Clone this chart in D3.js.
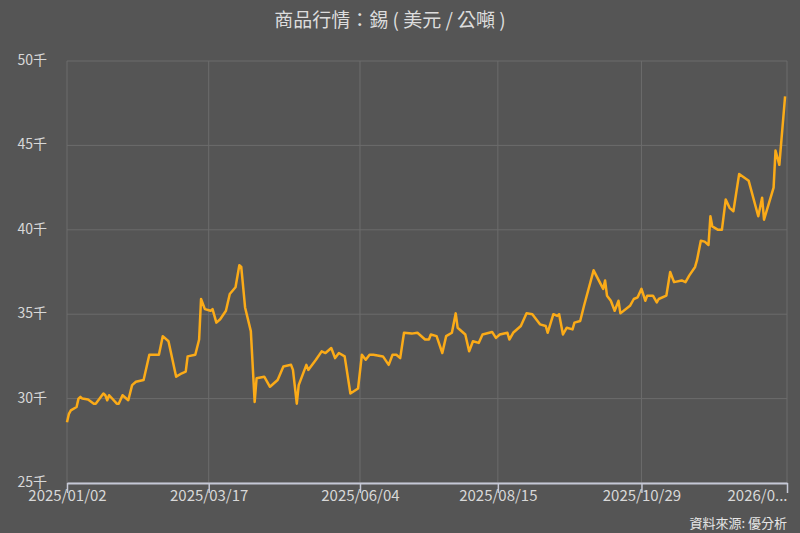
<!DOCTYPE html>
<html><head><meta charset="utf-8">
<script src="https://cdn.jsdelivr.net/npm/d3@7"></script>
<style>body{margin:0;background:#555555;font-family:"Noto Sans CJK TC","Noto Sans",sans-serif;}</style>
</head><body><svg id="c" width="800" height="533"></svg>
<script>
// days since 2025/01/02
var days = [0,1,2,5,6,7,8,11,14,15,19,20,21,22,26,27,29,32,34,36,40,43,47,48,50,53,57,60,62,63,67,69,70,72,75,76,77,78,80,83,85,88,90,91,93,96,98,99,103,106,110,113,117,118,120,121,125,126,130,133,135,138,140,142,145,148,152,154,156,158,160,165,168,170,172,174,176,180,183,187,189,190,193,196,198,201,203,204,208,210,212,215,217,222,224,226,230,231,233,237,240,243,247,250,251,254,256,257,259,261,264,265,268,270,275,280,281,282,284,286,288,289,294,296,298,300,302,303,306,308,309,313,315,317,321,323,325,328,329,331,333,335,336,337,340,342,344,346,348,351,356,361,363,364,369,370,372,375];
// tin price, thousand USD / tonne
var prices = [28.6,29.1,29.3,29.5,30.0,30.1,30.0,29.95,29.7,29.7,30.3,30.2,29.9,30.2,29.7,29.7,30.2,29.9,30.8,31.0,31.1,32.6,32.6,32.6,33.7,33.4,31.3,31.5,31.6,32.5,32.6,33.5,35.9,35.3,35.2,35.3,34.9,34.5,34.7,35.2,36.2,36.6,37.9,37.8,35.4,34.0,29.8,31.2,31.3,30.7,31.1,31.9,32.0,31.7,29.7,30.8,32.0,31.7,32.3,32.8,32.7,33.0,32.4,32.7,32.5,30.3,30.6,32.6,32.3,32.6,32.6,32.5,32.0,32.6,32.6,32.4,33.9,33.85,33.9,33.5,33.5,33.8,33.7,32.7,33.7,33.9,35.05,34.2,33.8,32.8,33.4,33.3,33.8,33.95,33.6,33.8,33.9,33.5,33.9,34.3,35.05,35.0,34.4,34.3,33.9,35.0,34.9,35.0,33.8,34.2,34.1,34.5,34.6,35.5,37.6,36.5,37.0,36.1,35.8,35.2,35.8,35.05,35.5,35.9,36.0,36.5,35.8,36.1,36.1,35.7,35.9,36.1,37.5,36.9,37.0,36.9,37.3,37.8,38.2,39.35,39.3,39.1,40.8,40.2,40.0,40.0,41.8,41.3,41.1,43.3,42.9,40.8,41.9,40.6,42.5,44.7,43.85,47.9];
var xTickDates = ["2025-01-02","2025-03-17","2025-06-04","2025-08-15","2025-10-29","2026-01-13"];
var xTickLabels = ["2025/01/02","2025/03/17","2025/06/04","2025/08/15","2025/10/29","2026/0..."];
var yTicks = [25,30,35,40,45,50];

var start = new Date(2025,0,2);
var data = days.map(function(d,i){ return {date: d3.timeDay.offset(start,d), v: prices[i]}; });
var parse = d3.timeParse("%Y-%m-%d");
var tickDates = xTickDates.map(parse);

var svg = d3.select("#c");
var x = d3.scaleTime().domain([start, tickDates[tickDates.length-1]]).range([67,787]);
var y = d3.scaleLinear().domain([25,50]).range([483,61]);

// grid
svg.append("g").selectAll("line").data(yTicks).enter().append("line")
  .attr("x1",67).attr("x2",787).attr("y1",y).attr("y2",y)
  .attr("stroke","#6c6c6c").attr("stroke-width",1);
svg.append("g").selectAll("line").data(tickDates).enter().append("line")
  .attr("x1",x).attr("x2",x).attr("y1",61).attr("y2",483)
  .attr("stroke","#6c6c6c").attr("stroke-width",1);

// y labels
svg.append("g").selectAll("text").data(yTicks).enter().append("text")
  .attr("x",47).attr("y",function(d){return y(d)+4;}).attr("text-anchor","end")
  .attr("fill","#d8d8d8").attr("font-size",14).text(function(d){return d+"千";});

// x axis
var xAxis = d3.axisBottom(x).tickValues(tickDates).tickSize(10).tickSizeOuter(0)
  .tickFormat(function(d,i){return xTickLabels[i];});
var gx = svg.append("g").attr("transform","translate(0,483)").call(xAxis);
gx.select(".domain").attr("stroke","#c5c8d6").attr("stroke-width",2);
gx.selectAll(".tick line").attr("stroke","#c5c8d6").attr("stroke-width",1.5);
gx.selectAll(".tick text").attr("fill","#d8d8d8").attr("font-size",15)
  .attr("font-family","'Noto Sans CJK TC','Noto Sans',sans-serif").attr("y",7).attr("dy","0.71em");
gx.selectAll(".tick text").filter(function(d,i){return i===xTickLabels.length-1;})
  .attr("text-anchor","end");

// line
svg.append("path").datum(data)
  .attr("fill","none").attr("stroke","#fbab18").attr("stroke-width",2.5)
  .attr("stroke-linejoin","round")
  .attr("d", d3.line().x(function(d){return x(d.date);}).y(function(d){return y(d.v);}));

svg.append("text").attr("x",390).attr("y",27).attr("text-anchor","middle")
  .attr("fill","#dddddd").attr("font-size",19).text("商品行情：錫 ( 美元 / 公噸 )");
svg.append("text").attr("x",787).attr("y",528).attr("text-anchor","end")
  .attr("fill","#e6e6e6").attr("font-size",13).text("資料來源: 優分析");
</script></body></html>
